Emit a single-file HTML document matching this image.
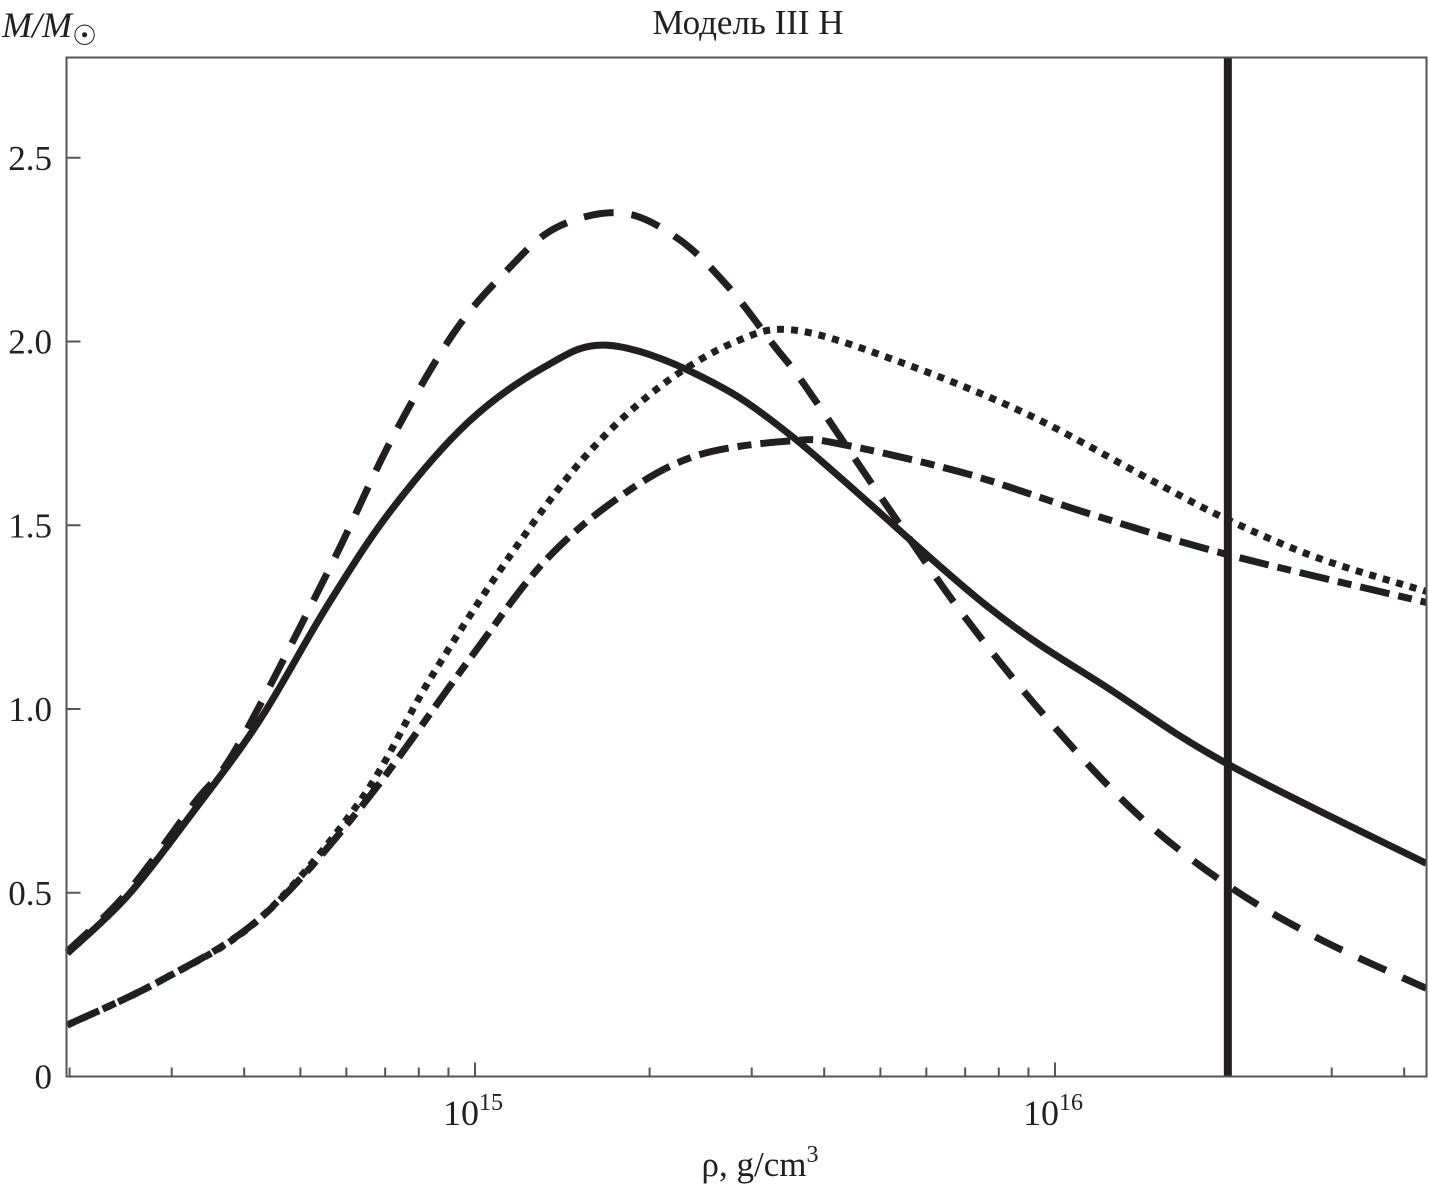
<!DOCTYPE html>
<html><head><meta charset="utf-8"><style>
body{margin:0;background:#fff;}
svg text{font-family:"Liberation Serif",serif;fill:#231f20;}
</style></head><body>
<svg id="chart" width="1429" height="1198" viewBox="0 0 1429 1198" xmlns="http://www.w3.org/2000/svg">
<text x="748" y="34" font-size="35" text-anchor="middle">Модель III H</text>
<text x="2" y="37" font-size="36" font-style="italic">M/M<tspan font-size="28" font-style="normal" dy="8">☉</tspan></text>
<text x="760" y="1176" font-size="35" text-anchor="middle">ρ, g/cm<tspan font-size="24" dy="-14">3</tspan></text>
<g id="axes"></g>
<g id="series"></g>
<rect x="66.5" y="57.5" width="1360" height="1019" fill="none" stroke="#555" stroke-width="2"/>
</svg>
<script>
const yTicks=[0,0.5,1.0,1.5,2.0,2.5];
const yTickLabels=["0","0.5","1.0","1.5","2.0","2.5"];
const xMajor=[15,16];
const vlineLogRho=16.298;
const solidX=[14.297,14.4,14.514,14.629,14.745,14.855,14.988,15.119,15.226,15.383,15.548,15.883,16.098,16.298,16.64];
const solidY=[0.335,0.49,0.72,0.97,1.28,1.54,1.78,1.93,1.99,1.91,1.74,1.28,1.05,0.85,0.58];
const dashedX=[14.297,14.4,14.514,14.591,14.75,14.855,14.962,15.053,15.14,15.252,15.35,15.436,15.515,15.569,15.705,15.84,15.983,16.141,16.298,16.455,16.64];
const dashedY=[0.34,0.50,0.74,0.90,1.385,1.73,2.02,2.19,2.31,2.35,2.28,2.15,1.99,1.88,1.565,1.26,0.98,0.715,0.52,0.375,0.24];
const dottedX=[14.297,14.457,14.629,14.802,14.922,15.053,15.186,15.317,15.45,15.555,15.74,15.955,16.169,16.298,16.455,16.64];
const dottedY=[0.14,0.26,0.43,0.75,1.08,1.40,1.68,1.875,2.0,2.03,1.94,1.80,1.62,1.515,1.41,1.32];
const dashdotX=[14.297,14.457,14.629,14.802,14.988,15.119,15.252,15.383,15.548,15.633,15.848,16.062,16.298,16.64];
const dashdotY=[0.14,0.26,0.43,0.73,1.13,1.40,1.58,1.69,1.73,1.72,1.64,1.53,1.42,1.29];

const NS="http://www.w3.org/2000/svg";
const L=66.5,R=1426.5,T=57.5,B=1076.5;
const xs=v=>475+(v-15)*580;
const ys=v=>B-v*367.5;
const axes=document.getElementById('axes');
function mk(tag,attrs,parent){const e=document.createElementNS(NS,tag);for(const k in attrs)e.setAttribute(k,attrs[k]);parent.appendChild(e);return e;}
yTicks.forEach((t,i)=>{
  const l=mk('line',{x1:L,x2:L+14,y1:ys(t),y2:ys(t),stroke:'#555','stroke-width':2},axes);
  
  
  const tx=mk('text',{x:52,y:ys(t)+12,'font-size':35,'text-anchor':'end'},axes);
  tx.textContent=yTickLabels[i];
  
  
});
for(let d=14;d<=16;d++){for(let m=1;m<10;m++){
  const lv=d+Math.log10(m);const x=xs(lv);
  if(x<L||x>R)continue;
  const major=(m===1);
  const l=mk('line',{x1:x,x2:x,y1:B,y2:B-(major?14:9),stroke:'#555','stroke-width':2},axes);
  
  
}}
xMajor.forEach(e=>{
  const tx=mk('text',{x:xs(e)-32,y:1125,'font-size':36},axes);
  tx.textContent='10';
  const sp=mk('tspan',{'font-size':24,dy:-15},tx);sp.textContent=String(e);
  
  
});
function pathFor(X,Y){
  const P=X.map((x,i)=>[xs(x),ys(Y[i])]);
  let d='M'+P[0][0]+','+P[0][1];
  for(let i=0;i<P.length-1;i++){
    const p0=P[i-1]||P[i],p1=P[i],p2=P[i+1],p3=P[i+2]||P[i+1];
    const c1=[p1[0]+(p2[0]-p0[0])/6,p1[1]+(p2[1]-p0[1])/6];
    const c2=[p2[0]-(p3[0]-p1[0])/6,p2[1]-(p3[1]-p1[1])/6];
    d+=' C'+c1+' '+c2+' '+p2;
  }
  return d;
}
const sg=document.getElementById('series');
const defs=[[solidX,solidY,'','solid-curve'],[dashedX,dashedY,'30 18','dashed-curve'],[dottedX,dottedY,'7 7','dotted-curve'],[dashdotX,dashdotY,'30 9 14 9','dash-dot-curve']];
defs.forEach(s=>{
  const p=mk('path',{d:pathFor(s[0],s[1]),fill:'none',stroke:'#231f20','stroke-width':7},sg);
  if(s[2])p.setAttribute('stroke-dasharray',s[2]);
  
  
});
const vl=mk('line',{x1:xs(vlineLogRho),x2:xs(vlineLogRho),y1:T,y2:B,stroke:'#231f20','stroke-width':8},sg);


</script>
</body></html>
